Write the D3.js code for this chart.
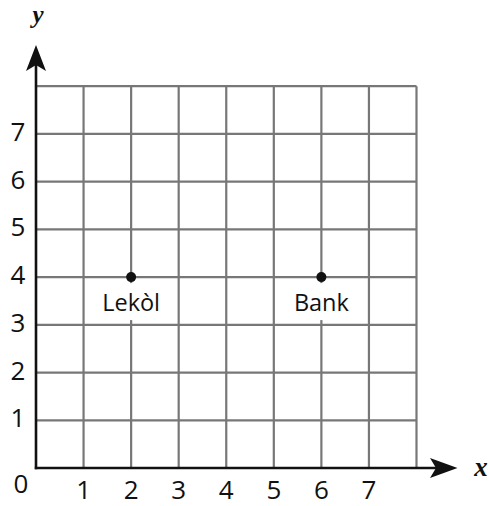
<!DOCTYPE html>
<html><head><meta charset="utf-8">
<script src="https://cdn.jsdelivr.net/npm/d3@7"></script>
<style>body{margin:0;background:#fff}svg{display:block}</style>
</head><body>
<svg id="c" width="489" height="506"></svg>
<script>
const xTicks = [1,2,3,4,5,6,7];
const yTicks = [1,2,3,4,5,6,7];
const gridValues = [0,1,2,3,4,5,6,7,8];
const pointNames = ["Lekòl","Bank"];
const pointX = [2,6];
const pointY = [4,4];

const svg = d3.select("#c");
const x = d3.scaleLinear().domain([0,8]).range([36,416.5]);
const y = d3.scaleLinear().domain([0,8]).range([468,86.2]);
const font = "'Open Sans', 'Noto Sans', sans-serif";

// grid
const g = svg.append("g").attr("stroke","#777").attr("stroke-width",2.2);
g.selectAll("line.v").data(gridValues.slice(1)).join("line")
  .attr("x1",d=>x(d)).attr("x2",d=>x(d)).attr("y1",y(0)).attr("y2",y(8));
g.selectAll("line.h").data(gridValues.slice(1)).join("line").attr("class","h")
  .attr("y1",d=>y(d)).attr("y2",d=>y(d)).attr("x1",x(0)).attr("x2",x(8));

// axes
svg.append("line").attr("x1",x(0)).attr("x2",x(0)).attr("y1",y(0)+1.2).attr("y2",60)
  .attr("stroke","#111").attr("stroke-width",2.6);
svg.append("line").attr("x1",x(0)-1.2).attr("x2",445).attr("y1",y(0)).attr("y2",y(0))
  .attr("stroke","#111").attr("stroke-width",2.6);
// arrowheads
const ax = x(0);
svg.append("path").attr("fill","#111")
  .attr("d",`M${ax},45 L${ax+10},71 L${ax},65 L${ax-10},71 Z`);
const ay = y(0);
svg.append("path").attr("fill","#111")
  .attr("d",`M457.5,${ay} L430,${ay+10} L436,${ay} L430,${ay-10} Z`);

// axis titles
svg.append("text").attr("x",38).attr("y",23).attr("text-anchor","middle")
  .attr("font-family","'Liberation Serif','DejaVu Serif',serif").attr("font-style","italic")
  .attr("font-weight","bold").attr("font-size",25).attr("fill","#111").text("y");
svg.append("text").attr("x",481).attr("y",476).attr("text-anchor","middle")
  .attr("font-family","'Liberation Serif','DejaVu Serif',serif").attr("font-style","italic")
  .attr("font-weight","bold").attr("font-size",27).attr("fill","#111").text("x");

// tick labels
svg.selectAll("text.xt").data(xTicks).join("text").attr("class","xt")
  .attr("x",d=>x(d)).attr("y",499).attr("text-anchor","middle")
  .attr("font-family",font).attr("font-size",26).attr("fill","#111").text(d=>d);
svg.selectAll("text.yt").data(yTicks).join("text").attr("class","yt")
  .attr("x",18).attr("y",d=>y(d)+7).attr("text-anchor","middle")
  .attr("font-family",font).attr("font-size",26).attr("fill","#111").text(d=>d);
svg.append("text").attr("x",21).attr("y",493).attr("text-anchor","middle")
  .attr("font-family",font).attr("font-size",26).attr("fill","#111").text("0");

// points
const pts = pointNames.map((n,i)=>({n, x:pointX[i], y:pointY[i]}));
const pg = svg.selectAll("g.pt").data(pts).join("g").attr("class","pt");
pg.append("rect").attr("x",d=>x(d.x)-34).attr("width",68)
  .attr("y",d=>y(d.y)+6).attr("height",37).attr("fill","#fff");
pg.append("circle").attr("cx",d=>x(d.x)).attr("cy",d=>y(d.y)).attr("r",5).attr("fill","#111");
pg.append("text").attr("x",d=>x(d.x)).attr("y",d=>y(d.y)+34).attr("text-anchor","middle")
  .attr("font-family",font).attr("font-size",23.5).attr("fill","#111").text(d=>d.n);
</script>
</body></html>
